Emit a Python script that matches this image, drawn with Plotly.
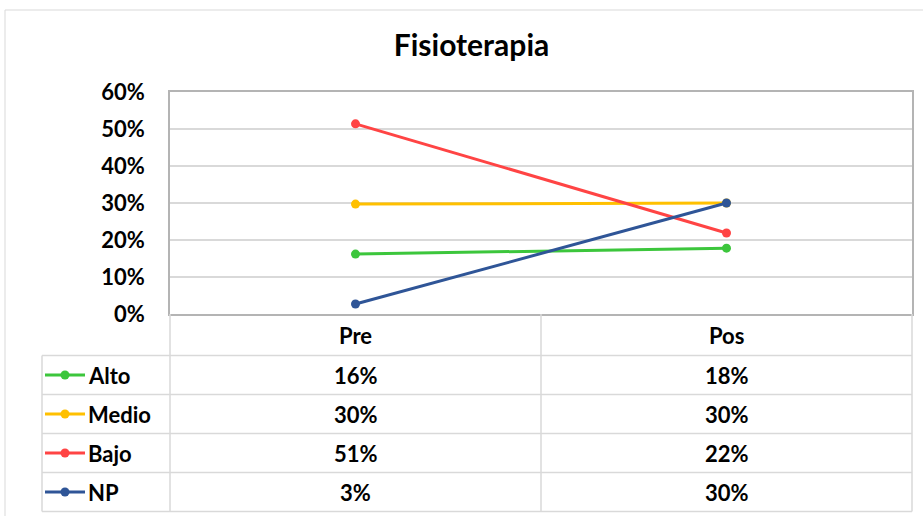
import plotly.graph_objects as go

categories = ["Pre", "Pos"]
series_names = ["Alto", "Medio", "Bajo", "NP"]
alto = [0.162, 0.178]
medio = [0.297, 0.300]
bajo = [0.514, 0.219]
np_vals = [0.027, 0.300]
table_labels = {
    "Alto": ["16%", "18%"],
    "Medio": ["30%", "30%"],
    "Bajo": ["51%", "22%"],
    "NP": ["3%", "30%"],
}
y_ticks = [0, 0.1, 0.2, 0.3, 0.4, 0.5, 0.6]
y_tick_labels = ["0%", "10%", "20%", "30%", "40%", "50%", "60%"]

colors = {"Alto": "#3CC63C", "Medio": "#FFC000", "Bajo": "#FF4444", "NP": "#2F5597"}
values = {"Alto": alto, "Medio": medio, "Bajo": bajo, "NP": np_vals}

FONT = "Lato, 'Open Sans', Arial, sans-serif"
W, H = 923, 516
L, R, T, B = 170, 912, 92, 314  # plot area in px


def px(x):
    return (x - L) / (R - L)


def py(y):
    return (B - y) / (B - T)


fig = go.Figure()
for name in series_names:
    fig.add_trace(go.Scatter(
        x=categories, y=values[name], mode="lines+markers", name=name,
        line=dict(color=colors[name], width=3),
        marker=dict(color=colors[name], size=9),
        showlegend=False,
    ))

shapes = []
grid = "#d9d9d9"
# outer chart border
shapes.append(dict(type="rect", xref="paper", yref="paper", x0=px(5), x1=px(930), y0=py(10), y1=py(520),
                   line=dict(color=grid, width=1), layer="below"))
# table verticals
for xv in [L, 541, R]:
    shapes.append(dict(type="line", xref="paper", yref="paper", x0=px(xv), x1=px(xv), y0=py(B), y1=py(511.5),
                       line=dict(color=grid, width=1.5)))
shapes.append(dict(type="line", xref="paper", yref="paper", x0=px(42), x1=px(42), y0=py(355.5), y1=py(511.5),
                   line=dict(color=grid, width=1.5)))
row_lines = [355.5, 394.5, 433.5, 472.5, 511.5]
for yv in row_lines:
    shapes.append(dict(type="line", xref="paper", yref="paper", x0=px(42), x1=px(R), y0=py(yv), y1=py(yv),
                       line=dict(color=grid, width=1.5)))

annotations = []
txt_font = dict(family=FONT, size=22, color="#000000", weight="bold")
col_x = [355.5, 726.5]
for cx, cat in zip(col_x, categories):
    annotations.append(dict(x=px(cx), y=py(335), xref="paper", yref="paper", text=cat, showarrow=False,
                            xanchor="center", yanchor="middle", font=txt_font))
row_centers = [375, 414, 453, 492]
for ry, name in zip(row_centers, series_names):
    # legend glyph
    shapes.append(dict(type="line", xref="paper", yref="paper", x0=px(45), x1=px(85), y0=py(ry), y1=py(ry),
                       line=dict(color=colors[name], width=3)))
    shapes.append(dict(type="circle", xref="paper", yref="paper", x0=px(60.5), x1=px(69.5), y0=py(ry - 4.5),
                       y1=py(ry + 4.5), fillcolor=colors[name], line=dict(color=colors[name], width=0)))
    annotations.append(dict(x=px(86), y=py(ry), xref="paper", yref="paper", text=name, showarrow=False,
                            xanchor="left", yanchor="middle", font=txt_font))
    for cx, txt in zip(col_x, table_labels[name]):
        annotations.append(dict(x=px(cx), y=py(ry), xref="paper", yref="paper", text=txt, showarrow=False,
                                xanchor="center", yanchor="middle", font=txt_font))

fig.update_layout(
    width=W, height=H,
    margin=dict(l=L, r=W - R, t=T, b=H - B, pad=0, autoexpand=False),
    paper_bgcolor="white", plot_bgcolor="white",
    title=dict(text="<b>Fisioterapia</b>", xref="paper", x=px(471.5), xanchor="center", y=1 - 45 / H,
               yanchor="middle", font=dict(family=FONT, size=30, color="#000000")),
    xaxis=dict(type="category", range=[-0.5, 1.5], showticklabels=False, showgrid=False, automargin=False,
               showline=True, mirror=True, linecolor="#b4b4b4", linewidth=1.5, zeroline=False),
    yaxis=dict(range=[0, 0.6], tickvals=y_ticks, ticktext=y_tick_labels, showgrid=True, gridcolor=grid,
               gridwidth=1.5, showline=True, mirror=True, linecolor="#b4b4b4", linewidth=1.5, zeroline=False,
               ticks="", ticklabelstandoff=19, automargin=False,
               tickfont=dict(family=FONT, size=22, color="#000000", weight="bold")),
    shapes=shapes, annotations=annotations,
)
fig.write_html("out.html", config={"displayModeBar": False},
               post_script="document.body.style.margin='0px';document.body.style.padding='0px';")
